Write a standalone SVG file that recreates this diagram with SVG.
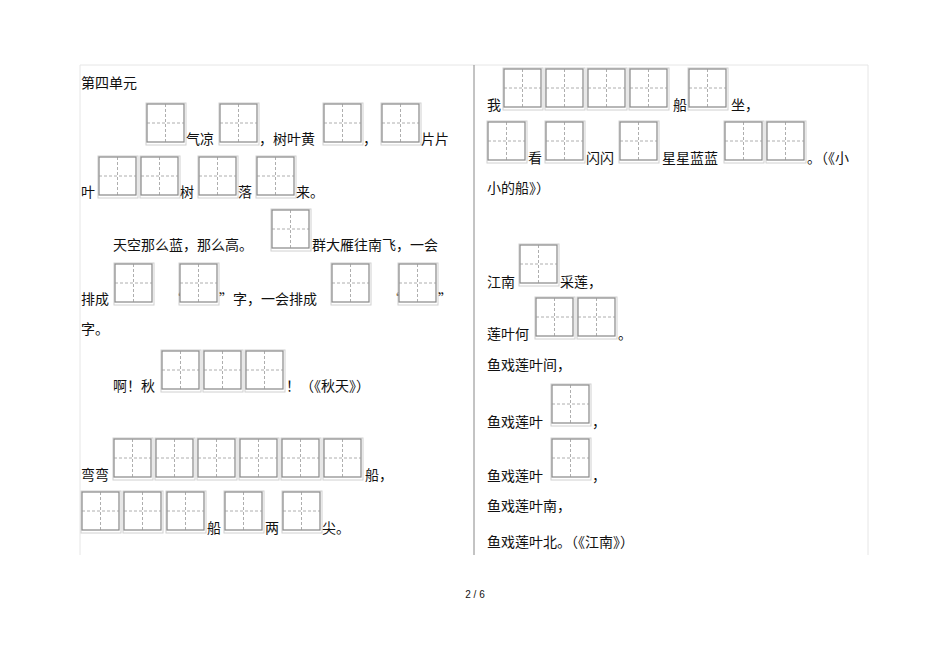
<svg xmlns="http://www.w3.org/2000/svg" xmlns:xlink="http://www.w3.org/1999/xlink" width="950" height="672" viewBox="0 0 950 672">
<style>
text{font-family:"Noto Sans CJK SC","Liberation Serif",serif;font-size:14px;fill:#111}
.o{fill:none;stroke:#d0d0d0;stroke-width:1}
.i{fill:#fff;stroke:#888;stroke-width:1.2}
.d{stroke:#999;stroke-width:0.8;stroke-dasharray:3,2}
.f{stroke:#e6e6e6;stroke-width:1}
</style>
<defs>
<g id="c"><rect class="o" x="0" y="0" width="40" height="42"/><rect class="i" x="1" y="1" width="37" height="38"/><line class="d" x1="1" y1="20" x2="38" y2="20"/><line class="d" x1="19.5" y1="1" x2="19.5" y2="39"/></g>
</defs>
<rect width="950" height="672" fill="#fff"/>
<line class="f" x1="80" y1="65" x2="868" y2="65"/>
<line class="f" x1="80" y1="65" x2="80" y2="555"/>
<line class="f" x1="868" y1="65" x2="868" y2="555"/>
<line x1="474" y1="65" x2="474" y2="555" stroke="#888" stroke-width="1"/>
<g id="left">
<text x="81" y="88">第四单元</text>
<use xlink:href="#c" x="146" y="103"/><use xlink:href="#c" x="219" y="103"/><use xlink:href="#c" x="323" y="103"/><use xlink:href="#c" x="381" y="103"/>
<text x="186" y="144">气凉</text><text x="259" y="144">，树叶黄</text><text x="363" y="144">，</text><text x="421" y="144">片片</text>
<text x="81" y="197">叶</text>
<use xlink:href="#c" x="98" y="156"/><use xlink:href="#c" x="140" y="156"/><use xlink:href="#c" x="198" y="156"/><use xlink:href="#c" x="256" y="156"/>
<text x="180" y="197">树</text><text x="238" y="197">落</text><text x="296" y="197">来。</text>
<text x="113" y="250">天空那么蓝，那么高。</text>
<use xlink:href="#c" x="271" y="209"/>
<text x="312" y="250">群大雁往南飞，一会</text>
<text x="81" y="304">排成</text>
<use xlink:href="#c" x="114" y="263"/><text x="170" y="304">“</text>
<use xlink:href="#c" x="179" y="263"/><text x="219" y="304">”字，一会排成</text>
<use xlink:href="#c" x="331" y="263"/><text x="388" y="304">“</text>
<use xlink:href="#c" x="398" y="263"/><text x="438" y="304">”</text>
<text x="81" y="334">字。</text>
<text x="113" y="391">啊！秋</text>
<use xlink:href="#c" x="161" y="350"/><use xlink:href="#c" x="203" y="350"/><use xlink:href="#c" x="245" y="350"/>
<text x="286" y="391">！（《秋天》）</text>
<text x="81" y="480">弯弯</text>
<use xlink:href="#c" x="113" y="438"/><use xlink:href="#c" x="155" y="438"/><use xlink:href="#c" x="197" y="438"/><use xlink:href="#c" x="239" y="438"/><use xlink:href="#c" x="281" y="438"/><use xlink:href="#c" x="323" y="438"/>
<text x="365" y="480">船，</text>
<use xlink:href="#c" x="81" y="491"/><use xlink:href="#c" x="123" y="491"/><use xlink:href="#c" x="166" y="491"/>
<text x="207" y="533">船</text><use xlink:href="#c" x="224" y="491"/>
<text x="265" y="533">两</text><use xlink:href="#c" x="282" y="491"/>
<text x="322" y="533">尖。</text>
</g>
<g id="right">
<text x="487" y="110">我</text>
<use xlink:href="#c" x="503" y="68"/><use xlink:href="#c" x="545" y="68"/><use xlink:href="#c" x="587" y="68"/><use xlink:href="#c" x="629" y="68"/>
<text x="673" y="110">船</text><use xlink:href="#c" x="688" y="68"/>
<text x="731" y="110">坐，</text>
<use xlink:href="#c" x="487" y="121"/><text x="528" y="163">看</text>
<use xlink:href="#c" x="545" y="121"/><text x="586" y="163">闪闪</text>
<use xlink:href="#c" x="619" y="121"/><text x="662" y="163">星星蓝蓝</text>
<use xlink:href="#c" x="724" y="121"/><use xlink:href="#c" x="766" y="121"/>
<text x="807" y="163">。（《小</text>
<text x="487" y="193">小的船》）</text>
<text x="487" y="287">江南</text><use xlink:href="#c" x="519" y="244"/><text x="560" y="287">采莲，</text>
<text x="487" y="339">莲叶何</text><use xlink:href="#c" x="535" y="297"/><use xlink:href="#c" x="577" y="297"/><text x="618" y="339">。</text>
<text x="487" y="370">鱼戏莲叶间，</text>
<text x="487" y="427">鱼戏莲叶</text><use xlink:href="#c" x="551" y="384"/><text x="592" y="427">，</text>
<text x="487" y="481">鱼戏莲叶</text><use xlink:href="#c" x="551" y="438"/><text x="592" y="481">，</text>
<text x="487" y="511">鱼戏莲叶南，</text>
<text x="487" y="547">鱼戏莲叶北。（《江南》）</text>
</g>
<text x="475" y="598" text-anchor="middle" style="font-size:10px;font-family:'Liberation Sans',sans-serif">2 / 6</text>
</svg>
